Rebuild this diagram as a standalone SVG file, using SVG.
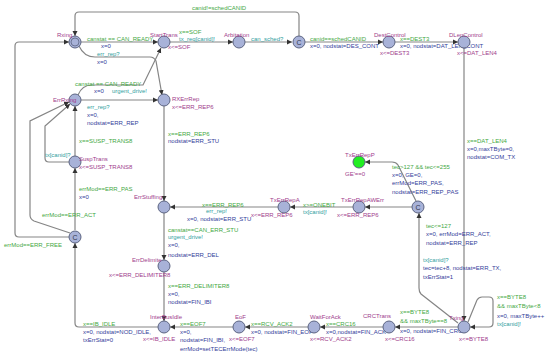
<svg xmlns="http://www.w3.org/2000/svg" width="550" height="357" viewBox="0 0 550 357">
<style>
text{font-family:"Liberation Sans",Arial,sans-serif;font-size:6px}
.n{fill:#a03c8c}
.g{fill:#3fa83f}
.a{fill:#34409a}
.s{fill:#2fa0a0}
.i{fill:#a03c8c}
.loc{fill:#a8b2d8;stroke:#5c6482;stroke-width:1}
.ok{fill:#22ee22;stroke:#5c6482;stroke-width:1}
.c{fill:#33384a;font-size:7px;text-anchor:middle}
.e{fill:none;stroke:#858585;stroke-width:1.2;marker-end:url(#ah)}
</style>
<defs>
<marker id="ah" markerWidth="6" markerHeight="6" refX="5" refY="3" orient="auto" markerUnits="userSpaceOnUse">
<path d="M0,0.5 L5,3 L0,5.5 Z" fill="#333"/>
</marker>
</defs>
<rect width="550" height="357" fill="#fff"/>
<g id="connectors">
<path class="e" d="M81,42 H158"/>
<path class="e" d="M170,42 H233"/>
<path class="e" d="M245,42 H292"/>
<path class="e" d="M305,42 H383"/>
<path class="e" d="M395,42 H458"/>
<path class="e" d="M299,36 V16 Q299,12 295,12 H79 Q75,12 75,16 V36"/>
<path class="e" d="M464,48 V321"/>
<path class="e" d="M79,46 Q84,57 95,57 H150 Q154,57 156,61 L162,95"/>
<path class="e" d="M78,95 Q82,85 92,85 H143 L161,48"/>
<path class="e" d="M81,100 H158"/>
<path class="e" d="M75,156 V106"/>
<path class="e" d="M69,162 H49 Q45,162 45,158 V126 L70,104"/>
<path class="e" d="M75,230 V168"/>
<path class="e" d="M70,233 L34,221 Q30,219 30,215 V121 L69,102"/>
<path class="e" d="M69,237 H19 Q15,237 15,233 V46 Q15,42 19,42 H69"/>
<path class="e" d="M164,106 V201"/>
<path class="e" d="M278,207 H170"/>
<path class="e" d="M353,207 H290"/>
<path class="e" d="M412,207 H365"/>
<path class="e" d="M416,201 L398,165 Q396,162 392,162 H365"/>
<path class="e" d="M458,323 L421,294 Q419,292 419,288 V213"/>
<path class="e" d="M164,213 V260"/>
<path class="e" d="M164,272 V321"/>
<path class="e" d="M158,327 H79 Q75,327 75,323 V243"/>
<path class="e" d="M233,327 H170"/>
<path class="e" d="M308,327 H245"/>
<path class="e" d="M383,327 H320"/>
<path class="e" d="M458,327 H395"/>
<path class="e" d="M468,322 L477,300 Q479,297 482,297 H489 Q493,297 493,301 V323 Q493,327 489,327 H470"/>
</g>
<g id="edge-labels">
<text class="g" x="87" y="41">canstat == CAN_READY</text>
<text class="a" x="101" y="48">x=0</text>
<text class="s" x="97" y="56">err_rep?</text>
<text class="a" x="97" y="64">x=0</text>
<text class="g" x="179" y="34">x==SOF</text>
<text class="s" x="179" y="41">tx_req[canid]!</text>
<text class="s" x="251" y="41">can_sched?</text>
<text class="g" x="192" y="10">canid!=schedCANID</text>
<text class="g" x="310" y="41">canid==schedCANID</text>
<text class="a" x="310" y="48">x=0, nodstat=DES_CONT</text>
<text class="g" x="400" y="41">x==DEST3</text>
<text class="a" x="400" y="48">x=0, nodstat=DAT_LEN_CONT</text>
<text class="g" x="467" y="143">x==DAT_LEN4</text>
<text class="a" x="467" y="151">x=0,maxTByte=0,</text>
<text class="a" x="467" y="159">nodstat=COM_TX</text>
<text class="g" x="75" y="86">canstat == CAN_READY</text>
<text class="a" x="94" y="93">x=0</text>
<text class="s" x="112" y="93">urgent_drive!</text>
<text class="s" x="87" y="109">err_rep?</text>
<text class="a" x="87" y="117">x=0,</text>
<text class="a" x="87" y="125">nodstat=ERR_REP</text>
<text class="g" x="79" y="143">x==SUSP_TRANS8</text>
<text class="s" x="45" y="157">tx[canid]?</text>
<text class="g" x="79" y="191">errMod==ERR_PAS</text>
<text class="a" x="79" y="199">x=0</text>
<text class="g" x="42" y="217">errMod==ERR_ACT</text>
<text class="g" x="4" y="247">errMod==ERR_FREE</text>
<text class="g" x="168" y="136">x==ERR_REP6</text>
<text class="a" x="168" y="143">nodstat=ERR_STU</text>
<text class="g" x="202" y="207">x==ERR_REP6</text>
<text class="s" x="206" y="213">err_rep!</text>
<text class="a" x="187" y="221">x=0, nodstat=ERR_STU</text>
<text class="g" x="303" y="207">x&gt;=ONEBIT</text>
<text class="s" x="303" y="214">tx[canid]!</text>
<text class="g" x="392" y="169">tec&gt;127 &amp;&amp; tec&lt;=255</text>
<text class="a" x="392" y="177">x=0, GE=0,</text>
<text class="a" x="392" y="185">errMod=ERR_PAS,</text>
<text class="a" x="392" y="194">nodstat=ERR_REP_PAS</text>
<text class="g" x="426" y="228">tec&lt;=127</text>
<text class="a" x="426" y="236">x=0, errMod=ERR_ACT,</text>
<text class="a" x="426" y="245">nodstat=ERR_REP</text>
<text class="s" x="423" y="262">tx[canid]?</text>
<text class="a" x="423" y="270">tec=tec+8, nodstat=ERR_TX,</text>
<text class="a" x="423" y="279">txErrStat=1</text>
<text class="g" x="168" y="232">canstat==CAN_ERR_STU</text>
<text class="s" x="168" y="239">urgent_drive!</text>
<text class="a" x="168" y="247">x=0,</text>
<text class="a" x="168" y="257">nodstat=ERR_DEL</text>
<text class="g" x="168" y="288">x==ERR_DELIMITER8</text>
<text class="a" x="168" y="296">x=0,</text>
<text class="a" x="168" y="304">nodstat=FIN_IBI</text>
<text class="g" x="83" y="326">x==IB_IDLE</text>
<text class="a" x="83" y="334">x=0, nodstat=NOD_IDLE,</text>
<text class="a" x="83" y="342">txErrStat=0</text>
<text class="g" x="180" y="326">x==EOF7</text>
<text class="a" x="180" y="334">x=0,</text>
<text class="a" x="180" y="342">nodstat=FIN_IBI,</text>
<text class="a" x="180" y="351">errMod=setTECErrMode(tec)</text>
<text class="g" x="251" y="326">x==RCV_ACK2</text>
<text class="a" x="251" y="334">x=0, nodstat=FIN_EOF</text>
<text class="g" x="326" y="326">x==CRC16</text>
<text class="a" x="326" y="334">x=0,nodstat=FIN_ACK</text>
<text class="g" x="400" y="314">x==BYTE8</text>
<text class="g" x="400" y="323">&amp;&amp; maxTByte==8</text>
<text class="a" x="400" y="333">x=0, nodstat=FIN_CRC</text>
<text class="g" x="497" y="299">x==BYTE8</text>
<text class="g" x="497" y="308">&amp;&amp; maxTByte&lt;8</text>
<text class="a" x="497" y="318">x=0, maxTByte++</text>
<text class="s" x="497" y="326">tx[canid]!</text>
</g>
<g id="Rxing"><circle class="loc" cx="75" cy="42" r="6"/><circle fill="none" stroke="#5c6482" stroke-width="0.8" cx="75" cy="42" r="4"/><text class="n" x="57" y="37">Rxing</text></g>
<g id="StartTrans"><circle class="loc" cx="164" cy="42" r="6"/><text class="n" x="150" y="37">StartTrans</text><text class="i" x="168" y="49">x&lt;=SOF</text></g>
<g id="Arbitation"><circle class="loc" cx="239" cy="42" r="6"/><text class="n" x="224" y="37">Arbitation</text></g>
<g id="C1"><circle class="loc" cx="299" cy="42" r="6"/><text class="c" x="299" y="44.5">C</text></g>
<g id="DestControl"><circle class="loc" cx="389" cy="42" r="6"/><text class="n" x="374" y="37">DestControl</text><text class="i" x="380" y="54.5">x&lt;=DEST3</text></g>
<g id="DLenControl"><circle class="loc" cx="464" cy="42" r="6"/><text class="n" x="449" y="37">DLenControl</text><text class="i" x="457" y="55">x&lt;=DAT_LEN4</text></g>
<g id="ErrRxing"><circle class="loc" cx="75" cy="100" r="6"/><text class="n" x="53" y="102">ErrRxing</text></g>
<g id="RXErrRep"><circle class="loc" cx="164" cy="100" r="6"/><text class="n" x="172" y="101">RXErrRep</text><text class="i" x="172" y="109">x&lt;=ERR_REP6</text></g>
<g id="SuspTrans"><circle class="loc" cx="75" cy="162" r="6"/><text class="n" x="79" y="161">SuspTrans</text><text class="i" x="79" y="169">x&lt;=SUSP_TRANS8</text></g>
<g id="ErrStuffing"><circle class="loc" cx="164" cy="207" r="6"/><text class="n" x="134" y="199">ErrStuffing</text></g>
<g id="TxErrRepA"><circle class="loc" cx="284" cy="207" r="6"/><text class="n" x="270" y="202">TxErrRepA</text><text class="i" x="251" y="217">x&lt;=ERR_REP6</text></g>
<g id="TxErrRepAWErr"><circle class="loc" cx="359" cy="207" r="6"/><text class="n" x="341" y="202">TxErrRepAWErr</text><text class="i" x="337" y="217">x&lt;=ERR_REP6</text></g>
<g id="TxErrRepP"><circle class="ok" cx="359" cy="162" r="6"/><text class="n" x="345" y="157">TxErrRepP</text><text class="i" x="345" y="176">GE'==0</text></g>
<g id="C2"><circle class="loc" cx="418" cy="207" r="6"/><text class="c" x="418" y="209.5">C</text></g>
<g id="C3"><circle class="loc" cx="75" cy="237" r="6"/><text class="c" x="75" y="239.5">C</text></g>
<g id="ErrDelimite"><circle class="loc" cx="164" cy="266" r="6"/><text class="n" x="132" y="262">ErrDelimite</text><text class="i" x="109" y="277">x&lt;=ERR_DELIMITER8</text></g>
<g id="InterBusIdle"><circle class="loc" cx="164" cy="327" r="6"/><text class="n" x="150" y="319">InterBusIdle</text><text class="i" x="143" y="341">x&lt;=IB_IDLE</text></g>
<g id="EoF"><circle class="loc" cx="239" cy="327" r="6"/><text class="n" x="235" y="319">EoF</text><text class="i" x="229" y="341">x&lt;=EOF7</text></g>
<g id="WaitForAck"><circle class="loc" cx="314" cy="327" r="6"/><text class="n" x="310" y="319">WaitForAck</text><text class="i" x="310" y="341">x&lt;=RCV_ACK2</text></g>
<g id="CRCTrans"><circle class="loc" cx="389" cy="327" r="6"/><text class="n" x="363" y="318">CRCTrans</text><text class="i" x="385" y="341">x&lt;=CRC16</text></g>
<g id="Txing"><circle class="loc" cx="464" cy="327" r="6"/><text class="n" x="449" y="320">Txing</text><text class="i" x="459" y="341">x&lt;=BYTE8</text></g>
</svg>
